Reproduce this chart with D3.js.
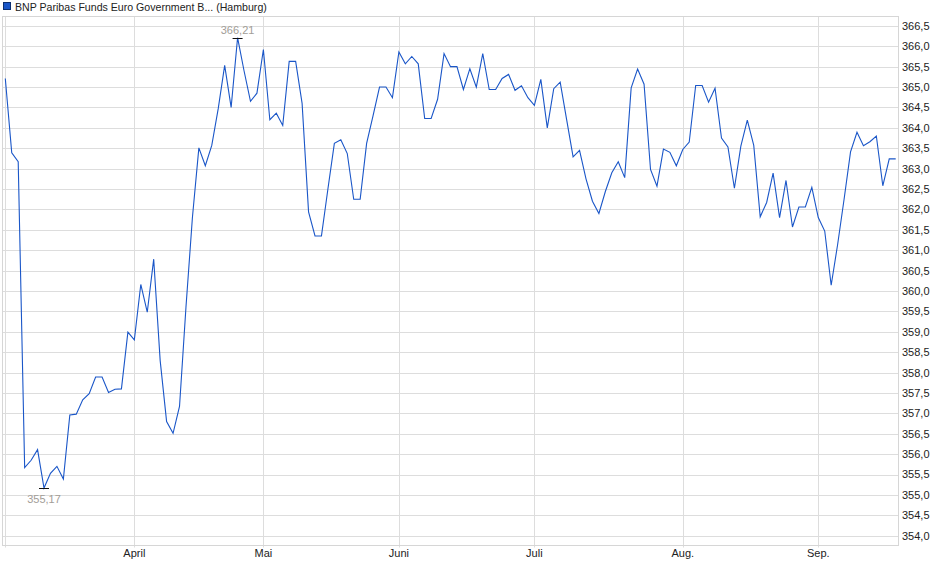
<!DOCTYPE html>
<html>
<head>
<meta charset="utf-8">
<script src="https://cdn.jsdelivr.net/npm/d3@7"></script>
<style>
  body { margin: 0; background: #fff; }
  svg { display: block; font-family: "Liberation Sans", Arial, sans-serif; font-size: 11px; }
</style>
</head>
<body>
<svg id="chart"></svg>
<script>
// Trading days 2025 (MM-DD)
const dates = [
  "03-04","03-05","03-06","03-07","03-10","03-11","03-12","03-13","03-14","03-17",
  "03-18","03-19","03-20","03-21","03-24","03-25","03-26","03-27","03-28","03-31",
  "04-01","04-02","04-03","04-04","04-07","04-08","04-09","04-10","04-11","04-14",
  "04-15","04-16","04-17","04-22","04-23","04-24","04-25","04-28","04-29","04-30",
  "05-02","05-05","05-06","05-07","05-08","05-09","05-12","05-13","05-14","05-15",
  "05-16","05-19","05-20","05-21","05-22","05-23","05-26","05-27","05-28","05-29",
  "05-30","06-02","06-03","06-04","06-05","06-06","06-09","06-10","06-11","06-12",
  "06-13","06-16","06-17","06-18","06-19","06-20","06-23","06-24","06-25","06-26",
  "06-27","06-30","07-01","07-02","07-03","07-04","07-07","07-08","07-09","07-10",
  "07-11","07-14","07-15","07-16","07-17","07-18","07-21","07-22","07-23","07-24",
  "07-25","07-28","07-29","07-30","07-31","08-01","08-04","08-05","08-06","08-07",
  "08-08","08-11","08-12","08-13","08-14","08-15","08-18","08-19","08-20","08-21",
  "08-22","08-25","08-26","08-27","08-28","08-29","09-01","09-02","09-03","09-04",
  "09-05","09-08","09-09","09-10","09-11","09-12","09-15","09-16","09-17"
];

const prices = [
  365.21, 363.39, 363.17, 355.67, 355.85, 356.11, 355.17, 355.53, 355.70, 355.39,
  356.96, 356.98, 357.33, 357.48, 357.89, 357.89, 357.51, 357.59, 357.60, 358.99,
  358.80, 360.16, 359.48, 360.78, 358.30, 356.80, 356.51, 357.17, 359.60, 361.80,
  363.51, 363.07, 363.57, 364.47, 365.53, 364.50, 366.21, 365.40, 364.65, 364.85,
  365.92, 364.20, 364.36, 364.06, 365.63, 365.63, 364.60, 361.94, 361.35, 361.35,
  362.50, 363.62, 363.71, 363.37, 362.25, 362.25, 363.62, 364.30, 365.00, 365.00,
  364.74, 365.86, 365.57, 365.75, 365.57, 364.23, 364.23, 364.70, 365.82, 365.50,
  365.50, 364.94, 365.45, 365.00, 365.82, 364.94, 364.94, 365.21, 365.31, 364.92,
  365.03, 364.74, 364.55, 365.19, 364.00, 364.96, 365.12, 364.20, 363.29, 363.45,
  362.75, 362.20, 361.90, 362.44, 362.90, 363.17, 362.78, 364.98, 365.44, 365.07,
  362.98, 362.57, 363.48, 363.40, 363.07, 363.47, 363.65, 365.04, 365.04, 364.63,
  364.97, 363.75, 363.53, 362.52, 363.55, 364.19, 363.57, 361.82, 362.17, 362.89,
  361.80, 362.71, 361.57, 362.06, 362.06, 362.54, 361.80, 361.47, 360.14, 361.14,
  362.25, 363.41, 363.89, 363.56, 363.66, 363.80, 362.58, 363.24, 363.24
];

const monthLabels = ["April", "Mai", "Juni", "Juli", "Aug.", "Sep."];
const yTicks = [354.0, 354.5, 355.0, 355.5, 356.0, 356.5, 357.0, 357.5, 358.0, 358.5,
  359.0, 359.5, 360.0, 360.5, 361.0, 361.5, 362.0, 362.5, 363.0, 363.5, 364.0,
  364.5, 365.0, 365.5, 366.0, 366.5];
const title = "BNP Paribas Funds Euro Government B... (Hamburg)";

const width = 940, height = 579;
const frame = { left: 2.5, right: 898.5, top: 16.5, bottom: 545.5 };

const svg = d3.select("#chart").attr("width", width).attr("height", height);

const x = d3.scaleLinear().domain([0, dates.length - 1]).range([5.3, 895.7]);
const y = d3.scaleLinear().domain([353.76, 366.73]).range([frame.bottom, frame.top]);

// month boundaries: first trading day of each new month
const monthStarts = [];
dates.forEach((d, i) => {
  if (i > 0 && d.slice(0, 2) !== dates[i - 1].slice(0, 2)) monthStarts.push(i);
});
const vLines = [0].concat(monthStarts);

const fmt = v => d3.format(".1f")(v).replace(".", ",");
const fmt2 = v => d3.format(".2f")(v).replace(".", ",");

// horizontal grid
svg.append("g")
  .selectAll("line")
  .data(yTicks)
  .enter().append("line")
  .attr("x1", frame.left).attr("x2", frame.right)
  .attr("y1", d => Math.round(y(d)) + 0.5)
  .attr("y2", d => Math.round(y(d)) + 0.5)
  .attr("stroke", "#dddddd");

// vertical grid
svg.append("g")
  .selectAll("line")
  .data(vLines)
  .enter().append("line")
  .attr("x1", d => Math.round(x(d)) + 0.5)
  .attr("x2", d => Math.round(x(d)) + 0.5)
  .attr("y1", frame.top).attr("y2", frame.bottom + 2)
  .attr("stroke", "#dddddd");

// frame
svg.append("rect")
  .attr("x", frame.left).attr("y", frame.top)
  .attr("width", frame.right - frame.left)
  .attr("height", frame.bottom - frame.top)
  .attr("fill", "none")
  .attr("stroke", "#d6d6d6");

// y labels
svg.append("g")
  .selectAll("text")
  .data(yTicks)
  .enter().append("text")
  .attr("x", 902)
  .attr("y", d => y(d))
  .attr("dy", "0.36em")
  .attr("fill", "#222")
  .text(d => fmt(d));

// month labels
svg.append("g")
  .selectAll("text")
  .data(monthStarts)
  .enter().append("text")
  .attr("x", d => x(d))
  .attr("y", 557)
  .attr("text-anchor", "middle")
  .attr("fill", "#222")
  .text((d, i) => monthLabels[i]);

// price line
const line = d3.line()
  .x((d, i) => x(i))
  .y(d => y(d));

svg.append("path")
  .datum(prices)
  .attr("d", line)
  .attr("fill", "none")
  .attr("stroke", "#1a56c8")
  .attr("stroke-width", 1.1)
  .attr("stroke-linejoin", "miter");

// min / max markers
const maxI = d3.maxIndex(prices);
const minI = d3.minIndex(prices);

[[maxI, -1], [minI, 1]].forEach(([i, dir]) => {
  const px = x(i), py = Math.round(y(prices[i])) + 0.5;
  svg.append("line")
    .attr("x1", px - 5).attr("x2", px + 5)
    .attr("y1", py).attr("y2", py)
    .attr("stroke", "#111");
  svg.append("text")
    .attr("x", px)
    .attr("y", dir < 0 ? py - 4.5 : py + 14)
    .attr("text-anchor", "middle")
    .attr("fill", "#a29d97")
    .text(fmt2(prices[i]));
});

// legend
svg.append("rect")
  .attr("x", 3.5).attr("y", 2.5)
  .attr("width", 7).attr("height", 7)
  .attr("fill", "#1a56c8")
  .attr("stroke", "#0d2f70");
svg.append("text")
  .attr("x", 15)
  .attr("y", 10.5)
  .attr("fill", "#222")
  .style("font-size", "10.6px")
  .text(title);
</script>
</body>
</html>
